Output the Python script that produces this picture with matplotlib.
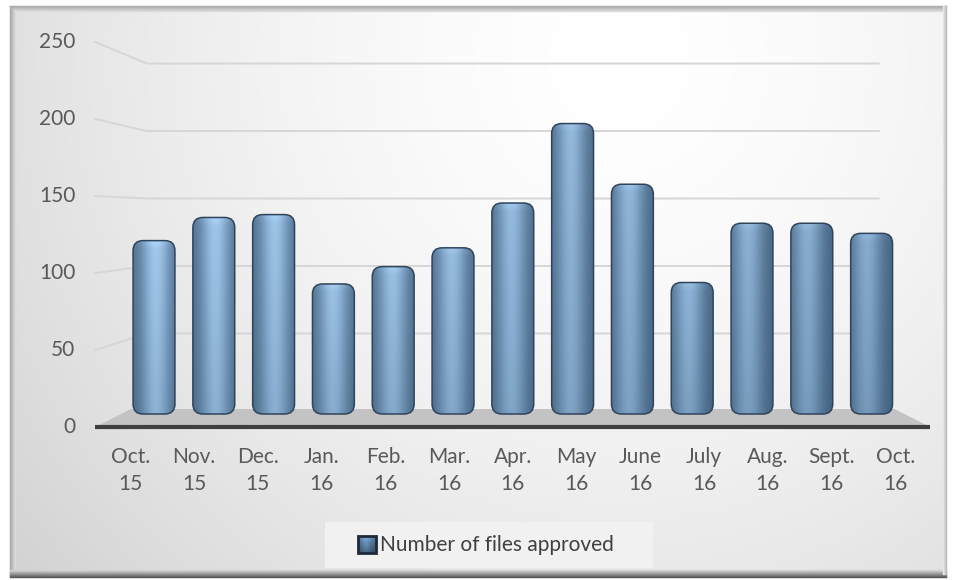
import numpy as np
import matplotlib.pyplot as plt
from matplotlib.patches import FancyBboxPatch, Polygon, Rectangle
from matplotlib.colors import to_rgb

# data
months = ["Oct.", "Nov.", "Dec.", "Jan.", "Feb.", "Mar.", "Apr.",
          "May", "June", "July", "Aug.", "Sept.", "Oct."]
years = ["15", "15", "15", "16", "16", "16", "16",
         "16", "16", "16", "16", "16", "16"]
approved = [120, 136, 138, 90, 102, 115, 146, 201, 159, 91, 132, 132, 125]
y_ticks = [0, 50, 100, 150, 200, 250]
series_name = "Number of files approved"

plt.rcParams['font.family'] = ['Lato', 'DejaVu Sans']
TXT = '#595959'

W, H = 957, 580
fig = plt.figure(figsize=(W / 100, H / 100), dpi=100)
fig.patch.set_facecolor('white')

# ---- background / frame, drawn in pixel coords ----
bg = fig.add_axes([0, 0, 1, 1])
bg.set_xlim(0, W)
bg.set_ylim(H, 0)
bg.axis('off')

L, T, R, B = 10, 6, 946, 574
xx, yy = np.meshgrid(np.arange(L, R), np.arange(T, B))
d = np.sqrt(((xx - 620) / 680.0) ** 2 + ((yy - 60) / 700.0) ** 2)
val = 1 - 0.14 * np.clip(d, 0, 1.2) ** 1.6
bg.imshow(np.dstack([val, val, val]), extent=[L, R, B, T], zorder=0,
          interpolation='bilinear')
# bevel edges
for k in range(6):
    c = 0.66 + k * 0.04
    bg.plot([L + k, L + k], [T + k, B - k], color=(c, c, c), lw=1, zorder=1)
    bg.plot([L + k, R - k], [T + k, T + k], color=(c, c, c), lw=1, zorder=1)
for k in range(8):
    c = 0.33 + k * 0.07
    bg.plot([L, R], [B + 3 - k, B + 3 - k], color=(c, c, c), lw=1, zorder=1)
for k in range(4):
    c = 0.72 + k * 0.06
    bg.plot([R - k, R - k], [T, B], color=(c, c, c), lw=1, zorder=1)

# legend box
bg.add_patch(Rectangle((325, 522), 328, 46, facecolor='#f1f1f1',
                       edgecolor='none', zorder=2))
mk = np.linspace(0, 1, 16)
mg = np.outer(1 - 0.4 * mk, 0.8 + 0.3 * np.exp(-((mk - 0.45) / 0.3) ** 2))
blue = np.array(to_rgb('#6f9cc8'))
bg.imshow(np.clip(mg[:, :, None] * blue, 0, 1), extent=[358, 376, 553, 536],
          zorder=3, interpolation='bilinear')
bg.add_patch(Rectangle((358, 536), 18, 17, facecolor='none',
                       edgecolor='#1e2a38', lw=2, zorder=4))
bg.text(380, 545, series_name, fontsize=15, color='#404040',
        ha='left', va='center', zorder=5)

# ---- main chart axes: x = category index, y = value ----
ax = fig.add_axes([0, 0, 1, 1])
ax.patch.set_alpha(0)
ax.axis('off')
ax.set_autoscale_on(False)
ax.set_xlim(-154 / 59.8, (W - 154) / 59.8)
ax.set_ylim((414 - H) / 1.445, 414 / 1.445)

# simple perspective: depth factor s about a vanishing centre
CX, CY = 6.0, 136.8
S_FRONT, S_BACK, S_FLOOR = 1.066, 0.934, 0.975
X0, X1 = -0.55, 12.55


def proj(x, v, s):
    return CX + (x - CX) * s, CY + (v - CY) * s


# gridlines on back wall with slant on the left side
for v in y_ticks[1:]:
    bx0, by0 = proj(X0, v, S_BACK)
    bx1, by1 = proj(X1, v, S_BACK)
    fx, fy = proj(X0, v, S_FRONT)
    ax.plot([fx, bx0, bx1], [fy, by0, by1], color='#d6d6d6', lw=1.4, zorder=1)

# floor
floor = [proj(X0, 0, S_FRONT), proj(X1, 0, S_FRONT),
         proj(X1, 0, S_FLOOR), proj(X0, 0, S_FLOOR)]
ax.add_patch(Polygon(floor, closed=True, facecolor='#c3c3c3',
                     edgecolor='none', zorder=2))
(ax0, ay0), (ax1, ay1) = floor[0], floor[1]
ax.plot([ax0, ax1], [ay0, ay1], color='#3f3f3f', lw=3, zorder=6,
        solid_capstyle='butt')

# y tick labels on the front plane
for v in y_ticks:
    fx, fy = proj(X0, v, S_FRONT)
    ax.annotate(str(v), (fx, fy), xytext=(-20, 0), textcoords='offset pixels',
                ha='right', va='center', fontsize=15, color=TXT)

# x labels on the front plane
for i, (m, yr) in enumerate(zip(months, years)):
    fx, fy = proj(i, 0, S_FRONT)
    ax.annotate(f"{m}\n{yr}", (fx, fy), xytext=(0, -20),
                textcoords='offset pixels', ha='center', va='top',
                fontsize=15, color=TXT, linespacing=1.45)

# rounded, shaded bars
dark = np.array(to_rgb('#2a4663'))
light = np.array(to_rgb('#a9d1f6'))
bw = 0.70
rs = 10 / 59.8
asp = 59.8 / 1.445
n = len(approved)
for i, v in enumerate(approved):
    x0 = i - bw / 2
    patch = FancyBboxPatch((x0, 0), bw, v,
                           boxstyle=f"round,pad=0,rounding_size={rs}",
                           mutation_aspect=asp, facecolor='none',
                           edgecolor='#2f445b', lw=1.1, zorder=5)
    ax.add_patch(patch)
    u = np.linspace(0, 1, 80)
    hl = 0.55 - 0.17 * i / (n - 1)
    prof = 0.28 + 0.66 * np.exp(-((u - hl) / 0.36) ** 2)
    prof *= 1 - 0.22 * i / (n - 1)
    t = np.linspace(0, 1, 120)[:, None]
    vert = 0.82 + 0.18 * t
    cap = 8 / (v * 1.445)
    vert = vert + 0.12 * np.clip((t - (1 - cap)) / cap, 0, 1)
    b = np.clip(prof[None, :] * vert, 0, 1)
    img = dark + (light - dark) * b[:, :, None]
    im = ax.imshow(np.clip(img, 0, 1), extent=[x0, x0 + bw, 0, v],
                   origin='lower', aspect='auto', zorder=4,
                   interpolation='bilinear')
    im.set_clip_path(patch)

fig.savefig("out.png", dpi=100, facecolor='white')
